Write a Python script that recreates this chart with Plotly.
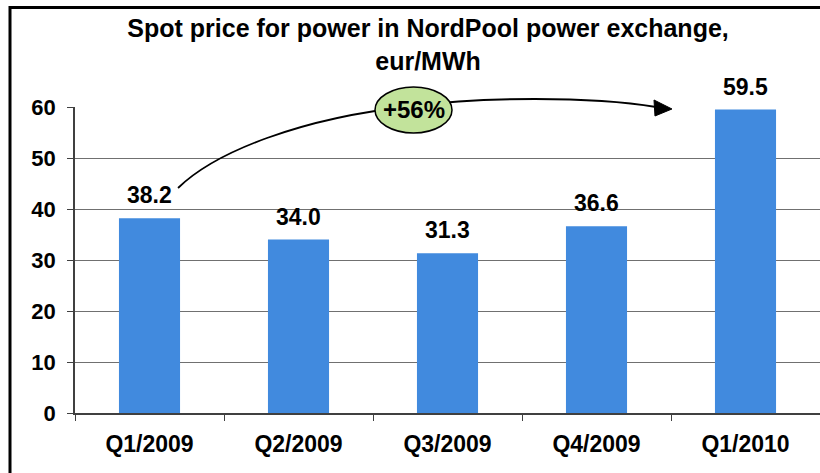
import plotly.graph_objects as go

categories = ["Q1/2009", "Q2/2009", "Q3/2009", "Q4/2009", "Q1/2010"]
prices = [38.2, 34.0, 31.3, 36.6, 59.5]
price_labels = ["38.2", "34.0", "31.3", "36.6", "59.5"]
y_ticks = [0, 10, 20, 30, 40, 50, 60]
change_label = "+56%"

W, H = 820, 473
L, R, T, B = 75, 820, 107, 413
FONT = "Liberation Sans, Arial, sans-serif"
BAR = "#418ADE"


def px(x):
    return (x - L) / (R - L)


def py(y):
    return (B - y) / (B - T)


def pt(x, y):
    return f"{px(x):.4f},{py(y):.4f}"


fig = go.Figure()
fig.add_trace(go.Bar(
    x=categories, y=prices, marker=dict(color=BAR, line=dict(width=0)),
    hoverinfo="skip",
))

for c, v, t in zip(categories, prices, price_labels):
    fig.add_annotation(x=c, y=v, text=t, showarrow=False, yanchor="bottom",
                       yshift=8, font=dict(family=FONT, size=23, color="black", weight="bold"))

# curved arrow
arrow_path = ("M " + pt(178, 188) + " C " + pt(215, 152) + " " + pt(300, 118) + " " + pt(413, 106)
              + " C " + pt(480, 97) + " " + pt(590, 96) + " " + pt(656, 107))
fig.add_shape(type="path", xref="paper", yref="paper", path=arrow_path,
              line=dict(color="black", width=1.8))
head = "M " + pt(672, 109) + " L " + pt(654, 100) + " L " + pt(655, 116) + " Z"
fig.add_shape(type="path", xref="paper", yref="paper", path=head,
              line=dict(color="black", width=1), fillcolor="black")
# ellipse
fig.add_shape(type="circle", xref="paper", yref="paper",
              x0=px(375), x1=px(452), y0=py(133), y1=py(87),
              line=dict(color="black", width=1.5), fillcolor="#C2E39B")
fig.add_annotation(xref="paper", yref="paper", x=px(413.5), y=py(110), text=change_label,
                   showarrow=False, xanchor="center", yanchor="middle",
                   font=dict(family=FONT, size=24, color="black", weight="bold"))

# outer frame
fig.add_shape(type="rect", xref="paper", yref="paper",
              x0=px(10), x1=px(840), y0=py(7.5), y1=py(490),
              line=dict(color="black", width=3), fillcolor="rgba(0,0,0,0)")

fig.update_layout(
    width=W, height=H,
    margin=dict(l=L, r=W - R, t=T, b=H - B),
    paper_bgcolor="white", plot_bgcolor="white",
    showlegend=False,
    bargap=0.59,
    title=dict(text="Spot price for power in NordPool power exchange,<br>eur/MWh",
               x=0.522, xanchor="center", y=1 - 37 / H, yanchor="middle",
               font=dict(family=FONT, size=25, color="black", weight="bold")),
    xaxis=dict(
        type="category", showgrid=False, showline=True, linecolor="#404040", linewidth=1.5,
        ticks="outside", tickson="boundaries", ticklen=6, tickcolor="#404040",
        tickfont=dict(family=FONT, size=23, color="black", weight="bold"),
        ticklabelstandoff=10,
    ),
    yaxis=dict(
        range=[0, 60], tickvals=y_ticks, showgrid=True, gridcolor="#707070", gridwidth=1,
        showline=True, linecolor="#404040", linewidth=1.5,
        ticks="outside", ticklen=6, tickcolor="#404040",
        tickfont=dict(family=FONT, size=22, color="black", weight="bold"),
        ticklabelstandoff=7, zeroline=False,
    ),
)

fig.write_html("out.html", config={"displayModeBar": False},
               post_script="document.body.style.margin='0';document.body.style.overflow='hidden';")
